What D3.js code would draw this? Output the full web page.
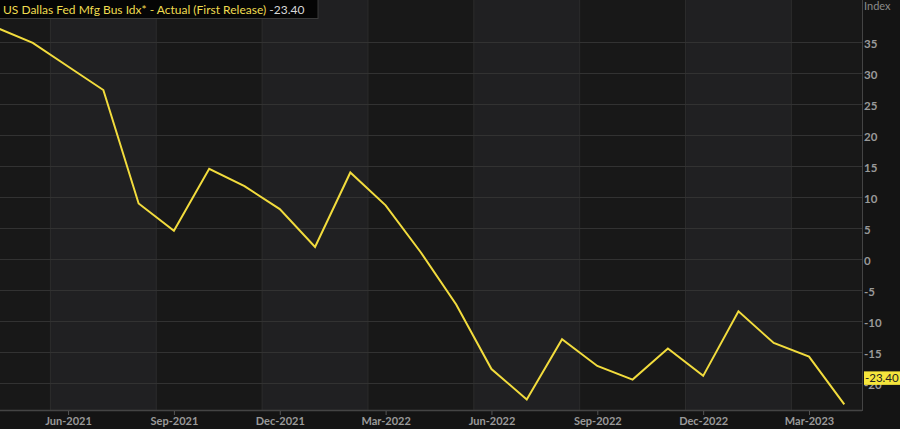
<!DOCTYPE html>
<html><head><meta charset="utf-8">
<script src="https://cdn.jsdelivr.net/npm/d3@7/dist/d3.min.js"></script>
<style>
html,body{margin:0;padding:0;background:#141414;}
svg{display:block;}
</style></head>
<body>
<svg id="chart" width="900" height="429"></svg>
<script>
const months = ["2021-04","2021-05","2021-06","2021-07","2021-08","2021-09","2021-10","2021-11","2021-12",
  "2022-01","2022-02","2022-03","2022-04","2022-05","2022-06","2022-07","2022-08","2022-09","2022-10","2022-11","2022-12",
  "2023-01","2023-02","2023-03","2023-04"];
const values = [37.3,34.9,31.1,27.3,9.0,4.6,14.6,11.8,8.1,
  2.0,14.0,8.7,1.1,-7.3,-17.7,-22.6,-12.9,-17.2,-19.4,-14.4,-18.8,
  -8.4,-13.5,-15.7,-23.4];
const xTickLabels = ["Jun-2021","Sep-2021","Dec-2021","Mar-2022","Jun-2022","Sep-2022","Dec-2022","Mar-2023"];
const xTickIdx = [2,5,8,11,14,17,20,23];
const yTicks = [-20,-15,-10,-5,0,5,10,15,20,25,30,35];
const title = "US Dallas Fed Mfg Bus Idx* - Actual (First Release)";
const lastLabel = "-23.40";

const W = 900, H = 429;
const plot = {left:0, right:862, top:0, bottom:410};
const svg = d3.select("#chart");

const x = d3.scaleLinear().domain([0, 24]).range([-2.5, 844.3]);
const y = d3.scaleLinear().domain([0, 35]).range([259.3, 42.3]);

svg.append("rect").attr("x",0).attr("y",0).attr("width",W).attr("height",H).attr("fill","#141414");
svg.append("rect").attr("x",plot.left).attr("y",plot.top).attr("width",plot.right-plot.left).attr("height",plot.bottom-plot.top).attr("fill","#181818");

// alternating quarter bands (boundaries half a month before each tick)
const bounds = xTickIdx.map(i => x(i - 0.5)).concat([plot.right]);
const g = svg.append("g");
for (let k = 1; k < bounds.length; k += 2) {
  g.append("rect").attr("x", bounds[k-1]).attr("y", plot.top)
    .attr("width", Math.min(bounds[k], plot.right) - bounds[k-1]).attr("height", plot.bottom-plot.top)
    .attr("fill", "#202022");
}
// vertical grid lines
xTickIdx.forEach(i => {
  g.append("line").attr("x1", x(i-0.5)).attr("x2", x(i-0.5)).attr("y1", plot.top).attr("y2", plot.bottom)
    .attr("stroke", "#2c2c2c").attr("stroke-width", 1);
});
// horizontal grid lines
yTicks.forEach(v => {
  g.append("line").attr("x1", plot.left).attr("x2", plot.right).attr("y1", Math.round(y(v))+0.5).attr("y2", Math.round(y(v))+0.5)
    .attr("stroke", "#323232").attr("stroke-width", 1);
});

// line
svg.append("clipPath").attr("id","clip").append("rect")
  .attr("x",plot.left).attr("y",plot.top).attr("width",plot.right-plot.left).attr("height",plot.bottom-plot.top);
svg.append("path").datum(values)
  .attr("clip-path","url(#clip)")
  .attr("fill","none").attr("stroke","#f2dc3d").attr("stroke-width",2).attr("stroke-linejoin","miter")
  .attr("d", d3.line().x((d,i)=>x(i)).y(d=>y(d)));

// axes frame
svg.append("line").attr("x1",0).attr("x2",plot.right).attr("y1",plot.bottom+0.5).attr("y2",plot.bottom+0.5).attr("stroke","#444").attr("stroke-width",1.5);
svg.append("line").attr("x1",plot.right+0.5).attr("x2",plot.right+0.5).attr("y1",0).attr("y2",plot.bottom+1).attr("stroke","#444").attr("stroke-width",1);

// x axis
const xAxis = d3.axisBottom(x).tickValues(xTickIdx).tickSize(4)
  .tickFormat((d,i)=>xTickLabels[i]);
const xg = svg.append("g").attr("transform",`translate(0,${plot.bottom+1})`).call(xAxis);
xg.select(".domain").remove();
xg.selectAll(".tick line").attr("stroke","#555");
xg.selectAll(".tick text").attr("fill","#9a9a9a").attr("font-family","Lato, 'Open Sans', sans-serif")
  .attr("font-size","11px").attr("font-weight","bold").attr("dy","0.9em").attr("y",4);

// y axis
const yAxis = d3.axisRight(y).tickValues(yTicks).tickSize(0).tickPadding(2).tickFormat(d3.format("d"));
const yg = svg.append("g").attr("transform",`translate(${plot.right},1.5)`).call(yAxis);
yg.select(".domain").remove();
yg.selectAll(".tick text").attr("fill","#9a9a9a").attr("font-family","Lato, 'Open Sans', sans-serif")
  .attr("font-size","11.5px").attr("font-weight","bold").text(d => d < 0 ? "-" + Math.abs(d) : d);
svg.append("text").attr("x",plot.right+2).attr("y",10).attr("fill","#8a8a8a")
  .attr("font-family","Lato, 'Open Sans', sans-serif").attr("font-size","11px").text("Index");

// last value label
const ly = y(values[values.length-1]) - 26.5;
svg.append("rect").attr("x",plot.right+2).attr("y",ly-6.5).attr("width",W-plot.right-2).attr("height",13.5).attr("fill","#f5e53c");
svg.append("text").attr("x",plot.right+3).attr("y",ly+4.5).attr("fill","#222")
  .attr("font-family","Lato, 'Open Sans', sans-serif").attr("font-size","11.5px").text(lastLabel);

// title box
const tg = svg.append("g");
tg.append("rect").attr("x",-1).attr("y",-1).attr("width",319).attr("height",19.5).attr("fill","#050505").attr("stroke","#3a3a3a");
const tt = tg.append("text").attr("x",3).attr("y",13.5).attr("font-family","Lato, 'Open Sans', sans-serif").attr("font-size","12px");
tt.append("tspan").attr("fill","#f0dc50").text(title);
tt.append("tspan").attr("fill","#d8d8d8").text(" " + lastLabel);
</script>
</body></html>
